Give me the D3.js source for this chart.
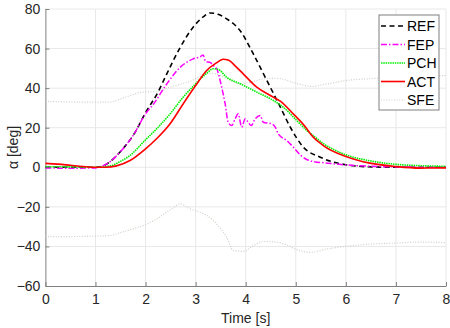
<!DOCTYPE html>
<html>
<head>
<meta charset="utf-8">
<script src="https://cdn.jsdelivr.net/npm/d3@7"></script>
<style>
  html, body { margin: 0; padding: 0; background: #fff; }
  svg { display: block; font-family: "Liberation Sans", Arial, sans-serif; }
</style>
</head>
<body>
<div id="chart"></div>
<script>
// [time s, alpha deg]
const refData = [[0,0],[0.5,0],[1.0,0],[1.1,0.3],[1.3,3],[1.5,8],[1.75,16],[2.02,28.5],[2.25,38],[2.42,47],[2.69,60.5],[2.95,70.8],[3.15,76],[3.29,78],[3.45,77.3],[3.62,75],[3.89,69],[4.15,57.4],[4.42,44],[4.62,34],[4.69,30.5],[4.89,20.3],[5.15,10.2],[5.49,5.1],[5.75,2.6],[6.0,1.3],[6.4,0.3],[7,0],[8,0]];
const fepData = [[0,-0.3],[0.5,-0.5],[1.0,-0.3],[1.1,0.3],[1.3,3],[1.5,8],[1.75,16],[2.0,27],[2.16,32],[2.42,42],[2.69,50.5],[2.95,54.8],[3.1,56],[3.15,56.8],[3.2,53.5],[3.29,53],[3.35,51.5],[3.42,49.8],[3.52,40.5],[3.59,32],[3.65,22.8],[3.72,21.1],[3.79,24.5],[3.85,27],[3.92,20.3],[3.99,24.5],[4.05,22.8],[4.11,21.1],[4.19,24.5],[4.29,26.2],[4.35,22.8],[4.52,22],[4.59,20.3],[4.65,16.9],[4.82,13.5],[4.95,10.2],[5.1,6],[5.2,4.2],[5.35,2.9],[5.6,2.2],[6.0,1.2],[6.5,0.5],[7,0.2],[8,0]];
const pchData = [[0,0.3],[0.5,0.2],[1.0,0],[1.29,0.7],[1.5,3],[1.69,6],[2.0,13.9],[2.22,19.4],[2.49,27],[2.75,35.4],[3.0,42.2],[3.22,47.5],[3.35,49.8],[3.45,49.5],[3.62,45.5],[3.89,42.2],[4.22,38],[4.55,33.8],[4.75,30.4],[5.02,23.6],[5.22,18.6],[5.35,16],[5.55,12],[6.0,6.3],[6.5,3.2],[7,1.5],[7.5,0.8],[8,0.5]];
const actData = [[0,2],[0.25,1.6],[0.5,1],[0.75,0.4],[1.0,0],[1.2,0],[1.42,0.7],[1.69,3.4],[2.0,9.3],[2.22,14.4],[2.49,22],[2.75,32],[3.0,41.3],[3.22,48.9],[3.4,52.5],[3.55,54.6],[3.65,54.2],[3.8,51],[3.95,47.2],[4.22,40.5],[4.49,36.3],[4.69,33.4],[4.95,27],[5.22,19.5],[5.29,17],[5.55,11],[6.0,5.5],[6.48,2.1],[7,0.4],[7.48,-0.4],[8,-0.3]];
const sfeUpper = [[0,33.3],[0.5,33],[0.89,32.9],[1.29,33],[1.56,35.1],[1.96,38],[2.22,38.3],[2.49,40.5],[2.89,43.5],[3.22,47.2],[3.35,47.5],[3.6,45],[3.89,42.2],[4.09,43],[4.4,44.8],[4.62,45],[5.0,42.5],[5.3,40.9],[5.6,42],[6.02,43.9],[6.5,44.8],[7,45.6],[7.5,46],[8,46.4]];
const sfeLower = [[0,-35],[0.5,-35],[1.0,-34.8],[1.29,-34.5],[1.5,-33],[1.76,-31],[2.0,-29],[2.2,-26.5],[2.42,-22.7],[2.55,-20.5],[2.69,-18.5],[2.89,-21],[3.09,-22.7],[3.2,-24],[3.35,-26.9],[3.5,-31],[3.62,-35.3],[3.75,-42],[3.95,-42.5],[4.15,-39.7],[4.35,-37.5],[4.6,-37.8],[4.8,-39],[5.0,-41.4],[5.3,-43],[5.6,-41.4],[6.0,-40],[6.5,-38.8],[7.0,-38.3],[7.5,-37.8],[8.0,-38.1]];

const xTicks = [0, 1, 2, 3, 4, 5, 6, 7, 8];
const yTicks = [-60, -40, -20, 0, 20, 40, 60, 80];
const legendNames = ['REF', 'FEP', 'PCH', 'ACT', 'SFE'];

const W = 450, H = 328;
const m = { left: 45.4, right: 4, top: 9, bottom: 42 };

const x = d3.scaleLinear().domain([0, 8]).range([m.left, W - m.right]);
const y = d3.scaleLinear().domain([-60, 80]).range([H - m.bottom, m.top]);

const svg = d3.select('#chart').append('svg')
    .attr('width', W)
    .attr('height', H);

// grid
const grid = svg.append('g').attr('stroke', '#e8e8e8').attr('stroke-width', 1);
grid.selectAll('line.v').data(xTicks.slice(1)).join('line')
    .attr('x1', d => x(d)).attr('x2', d => x(d))
    .attr('y1', y(-60)).attr('y2', y(80));
grid.selectAll('line.h').data(yTicks.slice(1)).join('line')
    .attr('x1', x(0)).attr('x2', x(8))
    .attr('y1', d => y(d)).attr('y2', d => y(d));

// axes
const xAxis = svg.append('g')
    .attr('transform', `translate(0,${y(-60)})`)
    .call(d3.axisBottom(x).tickValues(xTicks).tickSizeInner(-4).tickSizeOuter(0).tickPadding(8));
const yAxis = svg.append('g')
    .attr('transform', `translate(${x(0)},0)`)
    .call(d3.axisLeft(y).tickValues(yTicks).tickSizeInner(-4).tickSizeOuter(0).tickPadding(5));

[xAxis, yAxis].forEach(a => {
    a.select('.domain').attr('stroke', '#7f7f7f');
    a.selectAll('.tick line').attr('stroke', '#7f7f7f');
    a.selectAll('.tick text').attr('fill', '#262626').attr('font-size', 14)
        .attr('font-family', '"Liberation Sans", Arial, sans-serif');
});

svg.append('text')
    .attr('x', (x(0) + x(8)) / 2).attr('y', 323)
    .attr('text-anchor', 'middle').attr('font-size', 14).attr('fill', '#262626')
    .text('Time [s]');

svg.append('text')
    .attr('transform', `translate(18,${(y(-60) + y(80)) / 2}) rotate(-90)`)
    .attr('text-anchor', 'middle').attr('font-size', 14).attr('fill', '#262626')
    .text('α [deg]');

const line = d3.line()
    .x(d => x(d[0]))
    .y(d => y(d[1]))
    .curve(d3.curveMonotoneX);

const styles = {
    SFE: { color: '#d2cec6', width: 1.2, dash: '1,1.6' },
    REF: { color: '#000000', width: 1.6, dash: '5,3.5' },
    FEP: { color: '#ff00ff', width: 1.5, dash: '6,2,1.5,2' },
    PCH: { color: '#00ee00', width: 1.6, dash: '1.5,0.8' },
    ACT: { color: '#ff0000', width: 1.6, dash: null }
};

const series = [
    { name: 'SFE', data: sfeUpper },
    { name: 'SFE', data: sfeLower },
    { name: 'REF', data: refData },
    { name: 'FEP', data: fepData },
    { name: 'PCH', data: pchData },
    { name: 'ACT', data: actData }
];

svg.append('g').selectAll('path')
    .data(series)
    .join('path')
    .attr('d', d => line(d.data))
    .attr('fill', 'none')
    .attr('stroke', d => styles[d.name].color)
    .attr('stroke-width', d => styles[d.name].width)
    .attr('stroke-dasharray', d => styles[d.name].dash);

// legend
const lg = svg.append('g').attr('transform', 'translate(379,15)');
lg.append('rect')
    .attr('width', 60).attr('height', 95)
    .attr('fill', '#fff').attr('stroke', '#7f7f7f').attr('stroke-width', 1);

const row = lg.selectAll('g.row')
    .data(legendNames)
    .join('g')
    .attr('transform', (d, i) => `translate(0,${11 + i * 18.5})`);

row.append('line')
    .attr('x1', 2).attr('x2', 26)
    .attr('stroke', d => styles[d].color)
    .attr('stroke-width', d => styles[d].width)
    .attr('stroke-dasharray', d => styles[d].dash);

row.append('text')
    .attr('x', 28).attr('dy', '0.36em')
    .attr('font-size', 14).attr('fill', '#000')
    .text(d => d);
</script>
</body>
</html>
